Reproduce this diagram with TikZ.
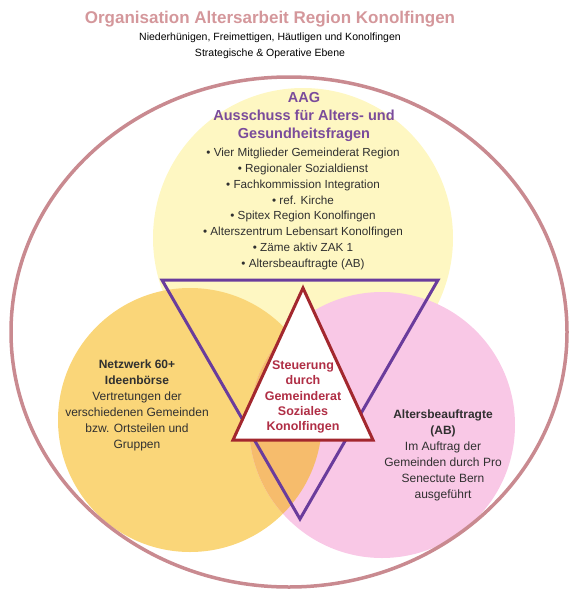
\documentclass[tikz,border=0pt]{standalone}
\usepackage{fontspec}
\setmainfont{Liberation Sans}
\definecolor{rim}{HTML}{C98A90}
\definecolor{titlerose}{HTML}{D4979B}
\definecolor{aagyellow}{HTML}{FEF7C2}
\definecolor{netorange}{HTML}{FAD679}
\definecolor{abpink}{HTML}{F9C8E6}
\definecolor{mixorange}{HTML}{F6BC6C}
\definecolor{triviolet}{HTML}{6A3C9C}
\definecolor{steerred}{HTML}{A3272E}
\definecolor{steertext}{HTML}{B02E45}
\definecolor{aagtext}{HTML}{7A4B9B}
\definecolor{bodytext}{HTML}{303030}
\tikzset{
  bodyfont/.style={font=\fontsize{12}{16}\selectfont, text=bodytext, align=center, inner sep=0pt},
  listfont/.style={font=\fontsize{11.7}{15.9}\selectfont, text=bodytext, align=center, inner sep=0pt},
}
\begin{document}
\begin{tikzpicture}[x=1pt,y=-1pt]
  \useasboundingbox (0,0) rectangle (568,589);
  % circles
  \fill[aagyellow] (303,238) circle (150);
  \fill[netorange] (190,420) circle (132);
  \fill[abpink] (382,425) circle (133);
  \begin{scope}
    \clip (190,420) circle (132);
    \fill[mixorange] (382,425) circle (133);
  \end{scope}
  % triangles
  \draw[triviolet, line width=3pt, line join=miter] (162,280) -- (438,280) -- (300,519) -- cycle;
  \draw[steerred, fill=white, line width=3pt, line join=miter] (303,288) -- (373,440) -- (233,440) -- cycle;
  \draw[rim, line width=3.5pt] (289,332) ellipse [x radius=278, y radius=255];
  % texts
  \node[font=\fontsize{17}{20}\selectfont\bfseries, text=titlerose, inner sep=0pt] (title) at (270,19) {Organisation Altersarbeit Region Konolfingen};
  \node[font=\fontsize{10.5}{16.5}\selectfont, align=center, inner sep=0pt] (sub) at (270,46) {Niederhünigen, Freimettigen, Häutligen und Konolfingen\\Strategische \& Operative Ebene};
  \node[font=\fontsize{14.5}{18}\selectfont\bfseries, text=aagtext, align=center, inner sep=0pt] (aag) at (304,117) {AAG\\Ausschuss für Alters- und\\Gesundheitsfragen};
  \node[listfont] (members) at (303,209) {• Vier Mitglieder Gemeinderat Region\\• Regionaler Sozialdienst\\• Fachkommission Integration\\• ref. Kirche\\• Spitex Region Konolfingen\\• Alterszentrum Lebensart Konolfingen\\• Zäme aktiv ZAK 1\\• Altersbeauftragte (AB)};
  \node[bodyfont] (netzwerk) at (137,405) {\textbf{Netzwerk 60+}\\\textbf{Ideenbörse}\\Vertretungen der\\verschiedenen Gemeinden\\bzw. Ortsteilen und\\Gruppen};
  \node[bodyfont] (ab) at (443,455) {\textbf{Altersbeauftragte}\\\textbf{(AB)}\\Im Auftrag der\\Gemeinden durch Pro\\Senectute Bern\\ausgeführt};
  \node[font=\fontsize{12.5}{15.3}\selectfont\bfseries, text=steertext, align=center, inner sep=0pt] (steuerung) at (303,397) {Steuerung\\durch\\Gemeinderat\\Soziales\\Konolfingen};
\end{tikzpicture}
\end{document}
